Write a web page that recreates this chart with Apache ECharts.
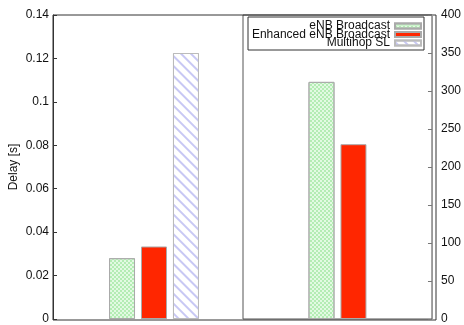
<!DOCTYPE html>
<html lang="en">
<head>
  <meta charset="UTF-8">
  <title>delay</title>
  <style>
    html, body { margin: 0; padding: 0; background: #fff; }
  </style>
</head>
<body>
  <div id="chart" style="width:464px;height:325px;"></div>
  <script src="https://cdn.jsdelivr.net/npm/echarts@6/dist/echarts.min.js"></script>
  <script>
    // data
    var seriesNames = ['eNB Broadcast', 'Enhanced eNB Broadcast', 'Multihop SL'];
    var leftCat = ['delay'];
    var rightCat = ['count'];
    var delayValues = [0.028, 0.0334, 0.1225];   // left panel, left axis [s]
    var countValues = [312, 230];                // right panel, right axis

    var font = 'Liberation Sans, Arial, sans-serif';

    // per-series look (gnuplot style patterns)
    var looks = [
      {
        color: '#e2fae2', borderColor: '#aaaaaa', borderWidth: 1,
        decal: { symbol: 'rect', symbolSize: 1, color: '#b4ecb4',
                 dashArrayX: [[2, 2], [0, 2, 2, 0]], dashArrayY: [2, 0] }
      },
      { color: '#ff2600', borderColor: '#aaaaaa', borderWidth: 1 },
      {
        color: '#ffffff', borderColor: '#bbbbbb', borderWidth: 1,
        decal: { symbol: 'rect', symbolSize: 1, color: '#c8c8f4',
                 dashArrayX: [1, 0], dashArrayY: [1.2, 5], rotation: Math.PI / 4 }
      }
    ];

    var series = [];
    delayValues.forEach(function (v, i) {
      series.push({
        name: seriesNames[i], type: 'bar', xAxisIndex: 0, yAxisIndex: 0,
        data: [v], barWidth: 26, barGap: '23%', itemStyle: looks[i],
        emphasis: { disabled: true }
      });
    });
    countValues.forEach(function (v, i) {
      series.push({
        name: seriesNames[i], type: 'bar', xAxisIndex: 1, yAxisIndex: 1,
        data: [v], barWidth: 26, barGap: '23%', itemStyle: looks[i],
        emphasis: { disabled: true }
      });
    });

    var chart = echarts.init(document.getElementById('chart'));
    chart.setOption({
      animation: false,
      textStyle: { fontFamily: font },
      grid: [
        { left: 65, top: 15, width: 178, height: 305 },
        { left: 243, top: 15, width: 193, height: 305, show: true, borderColor: '#555', borderWidth: 1 },
        { left: 53, top: 15, width: 383, height: 305, show: true, borderColor: '#333', borderWidth: 1 }
      ],
      legend: {
        data: seriesNames,
        orient: 'vertical',
        align: 'right',
        right: 40, top: 17,
        padding: [3, 2, 1, 2],
        itemGap: -3.5,
        itemWidth: 26, itemHeight: 5,
        icon: 'rect',
        borderColor: '#333', borderWidth: 1,
        selectedMode: false,
        textStyle: { fontFamily: font, fontSize: 12, color: '#111', lineHeight: 9,
                     width: 140, align: 'right', padding: 0 }
      },
      xAxis: [
        { type: 'category', gridIndex: 0, data: leftCat, show: false },
        { type: 'category', gridIndex: 1, data: rightCat, show: false },
        { type: 'category', gridIndex: 2, data: [''], show: false }
      ],
      yAxis: [
        {
          type: 'value', gridIndex: 0, position: 'left', offset: 12,
          min: 0, max: 0.14, interval: 0.02,
          name: 'Delay [s]', nameLocation: 'middle', nameGap: 33,
          nameTextStyle: { fontFamily: font, fontSize: 12, color: '#111' },
          axisLine: { show: true, lineStyle: { color: '#333' } },
          axisTick: { show: true, inside: true, length: 4, lineStyle: { color: '#333' } },
          axisLabel: { fontFamily: font, fontSize: 12, color: '#111', margin: 4 },
          splitLine: { show: false }
        },
        {
          type: 'value', gridIndex: 1, position: 'right',
          min: 0, max: 400, interval: 50,
          axisLine: { show: true, lineStyle: { color: '#999' } },
          axisTick: { show: true, inside: true, length: 4, lineStyle: { color: '#777' } },
          axisLabel: { fontFamily: font, fontSize: 12, color: '#111', margin: 9 },
          splitLine: { show: false }
        },
        { type: 'value', gridIndex: 2, show: false }
      ],
      series: series
    });
  </script>
</body>
</html>
